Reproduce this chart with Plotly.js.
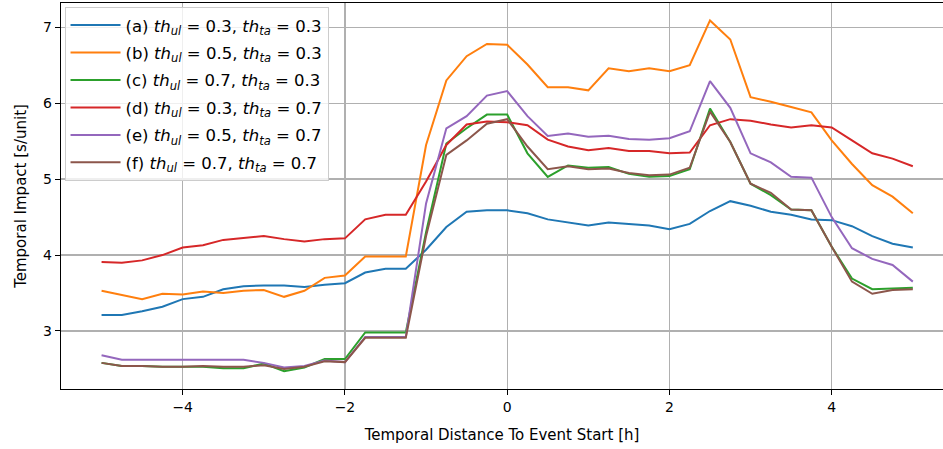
<!DOCTYPE html>
<html>
<head>
<meta charset="utf-8">
<script src="https://cdn.plot.ly/plotly-3.0.1.min.js"></script>
<style>html,body{margin:0;padding:0;background:#fff;}#chart{width:943px;height:449px;}</style>
</head>
<body>
<div id="chart"></div>
<script>
const hours = [-5,-4.75,-4.5,-4.25,-4,-3.75,-3.5,-3.25,-3,-2.75,-2.5,-2.25,-2,-1.75,-1.5,-1.25,-1,-0.75,-0.5,-0.25,0,0.25,0.5,0.75,1,1.25,1.5,1.75,2,2.25,2.5,2.75,3,3.25,3.5,3.75,4,4.25,4.5,4.75,5];

const seriesA = [3.21,3.21,3.26,3.32,3.42,3.45,3.55,3.59,3.60,3.60,3.58,3.61,3.63,3.77,3.82,3.82,4.07,4.37,4.57,4.59,4.59,4.55,4.47,4.43,4.39,4.43,4.41,4.39,4.34,4.41,4.58,4.71,4.65,4.57,4.53,4.47,4.46,4.38,4.25,4.15,4.10];
const seriesB = [3.53,3.47,3.42,3.49,3.48,3.52,3.50,3.53,3.54,3.45,3.53,3.70,3.73,3.98,3.98,3.98,5.45,6.30,6.62,6.78,6.77,6.51,6.21,6.21,6.17,6.46,6.42,6.46,6.42,6.50,7.09,6.84,6.08,6.02,5.95,5.88,5.51,5.20,4.92,4.77,4.55];
const seriesC = [2.58,2.54,2.54,2.53,2.53,2.53,2.51,2.51,2.57,2.47,2.52,2.63,2.63,2.98,2.98,2.98,4.30,5.47,5.67,5.85,5.85,5.34,5.03,5.18,5.15,5.16,5.07,5.03,5.04,5.13,5.93,5.49,4.94,4.79,4.60,4.59,4.11,3.69,3.55,3.56,3.57];
const seriesD = [3.91,3.90,3.93,4.00,4.10,4.13,4.20,4.23,4.25,4.21,4.18,4.21,4.22,4.47,4.53,4.53,4.97,5.45,5.72,5.76,5.75,5.71,5.52,5.43,5.38,5.41,5.37,5.37,5.34,5.35,5.71,5.79,5.77,5.72,5.68,5.71,5.68,5.51,5.34,5.27,5.17];
const seriesE = [2.68,2.62,2.62,2.62,2.61,2.62,2.62,2.62,2.58,2.52,2.54,2.61,2.59,2.92,2.92,2.92,4.68,5.67,5.83,6.10,6.16,5.83,5.57,5.60,5.56,5.57,5.53,5.52,5.54,5.63,6.29,5.94,5.34,5.22,5.03,5.02,4.50,4.09,3.95,3.87,3.65];
const seriesF = [2.58,2.54,2.54,2.53,2.53,2.54,2.53,2.53,2.55,2.50,2.53,2.60,2.59,2.91,2.91,2.91,4.25,5.32,5.51,5.73,5.79,5.43,5.13,5.17,5.13,5.14,5.08,5.05,5.06,5.15,5.89,5.49,4.94,4.82,4.60,4.59,4.11,3.65,3.49,3.54,3.55];

const labelIds = ['(a)','(b)','(c)','(d)','(e)','(f)'];
const thUl = ['0.3','0.5','0.7','0.3','0.5','0.7'];
const thTa = ['0.3','0.3','0.3','0.7','0.7','0.7'];
const colors = ['#1f77b4','#ff7f0e','#2ca02c','#d62728','#9467bd','#8c564b'];
const allSeries = [seriesA,seriesB,seriesC,seriesD,seriesE,seriesF];

const traces = allSeries.map((ys,i)=>({
  x: hours, y: ys, type:'scatter', mode:'lines',
  line:{color:colors[i], width:2},
  legendgroup: 'g' + i,
  name: labelIds[i] + ' <i>th</i><sub><i>ul</i></sub> = ' + thUl[i] + ', <i>th</i><sub><i>ta</i></sub> = ' + thTa[i]
}));

const font = {family:'DejaVu Sans, sans-serif', size:14, color:'#000'};
const layout = {
  width:943, height:449,
  margin:{l:61, r:0, t:3, b:60, pad:0},
  paper_bgcolor:'#fff', plot_bgcolor:'#fff',
  font: font,
  showlegend:true,
  legend:{x:0.004, y:0.99, xanchor:'left', yanchor:'top', bgcolor:'rgba(255,255,255,0.8)', bordercolor:'#cccccc', borderwidth:1, itemwidth:50, font:{family:'DejaVu Sans, sans-serif', size:16.5, color:'#000'}, tracegroupgap:3},
  xaxis:{
    range:[-5.5, 5.372], showgrid:true, gridcolor:'#b0b0b0', gridwidth:1.3,
    zeroline:false, showline:true, linecolor:'#000', linewidth:1.2, mirror:true,
    ticks:'outside', ticklen:5, tickcolor:'#000', tickwidth:1,
    tickvals:[-4,-2,0,2,4], tickfont:font,
    title:{text:'Temporal Distance To Event Start [h]', font:{family:'DejaVu Sans, sans-serif', size:15, color:'#000'}, standoff:15}
  },
  yaxis:{
    range:[2.236, 7.32], showgrid:true, gridcolor:'#b0b0b0', gridwidth:1.3,
    zeroline:false, showline:true, linecolor:'#000', linewidth:1.2,
    ticks:'outside', ticklen:5, tickcolor:'#000', tickwidth:1,
    tickvals:[3,4,5,6,7], tickfont:font,
    title:{text:'Temporal Impact [s/unit]', font:{family:'DejaVu Sans, sans-serif', size:15, color:'#000'}, standoff:12}
  }
};
Plotly.newPlot('chart', traces, layout, {staticPlot:true, displayModeBar:false});
</script>
</body>
</html>
